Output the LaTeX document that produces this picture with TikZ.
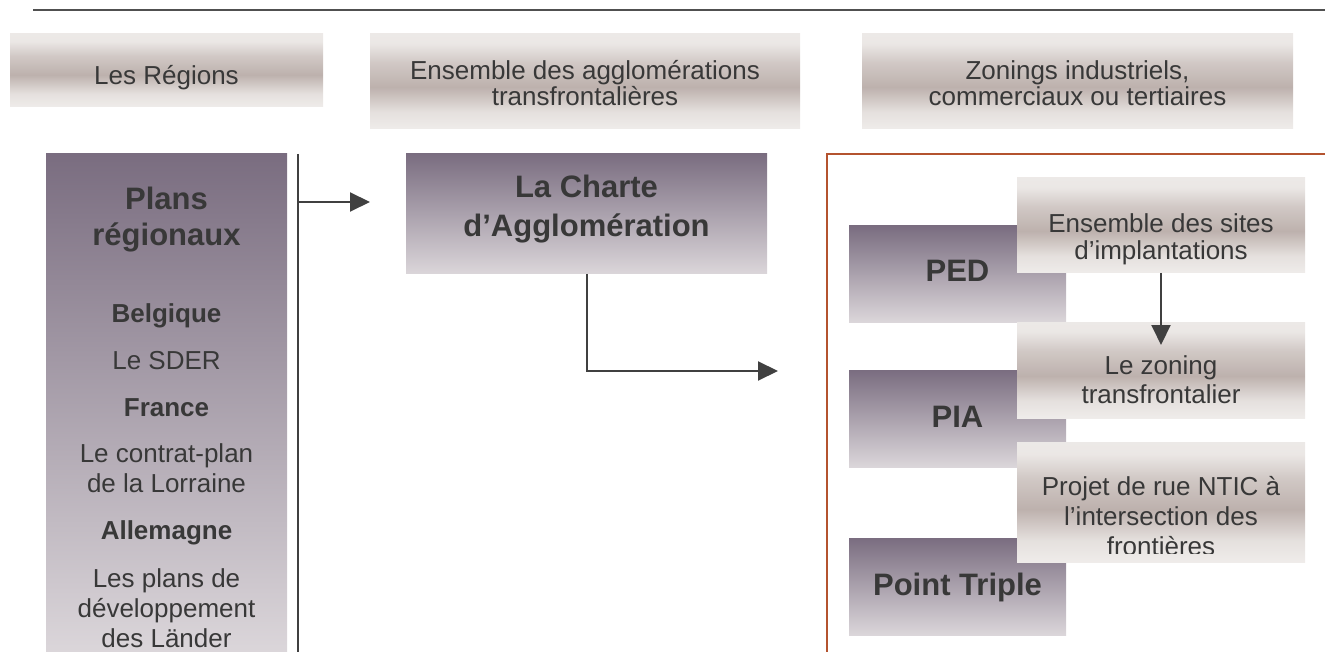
\documentclass[tikz,border=0pt]{standalone}
\usepackage{fontspec}
\setmainfont{Liberation Sans}
\usetikzlibrary{positioning,arrows.meta}

\definecolor{textgrey}{HTML}{383838}
\definecolor{linegrey}{HTML}{404040}
\definecolor{rulegrey}{HTML}{505050}
\definecolor{framebrown}{HTML}{B4532F}
\definecolor{plumdark}{HTML}{7A6D80}
\definecolor{plumlight}{HTML}{DBD6DA}
\definecolor{headlight}{HTML}{EFECEA}
\definecolor{headdark}{HTML}{BDB1AD}

% light at top and bottom, darker band a bit below the middle
\pgfdeclareverticalshading{headshade}{100bp}{%
  color(0bp)=(headlight); color(25bp)=(headlight);
  color(34bp)=(headlight!80!headdark); color(47bp)=(headdark);
  color(60bp)=(headdark!60!headlight); color(70bp)=(headlight!92!headdark);
  color(75bp)=(headlight!95!headdark); color(100bp)=(headlight!95!headdark)}

\begin{document}
\begin{tikzpicture}
        [ x=1pt, y=-1pt,
          every node/.style = {inner sep=0pt, outer sep=0pt, text=textgrey},
          head box/.style = {anchor=north west, shade, shading=headshade},
          plum box/.style = {anchor=north west, top color=plumdark, bottom color=plumlight},
          head text/.style = {font=\fontsize{26}{26}\selectfont, align=center, anchor=base},
          title text/.style = {font=\bfseries\fontsize{31}{37}\selectfont, align=center, anchor=base},
          sub text/.style = {font=\fontsize{26}{30}\selectfont, align=center, anchor=base},
          link/.style = {draw=linegrey, line width=2pt, -{Triangle[length=20pt,width=19pt]}}]
        \useasboundingbox (0,0) rectangle (1325,652);

        % top rule
        \coordinate (rulestart) at (33,10);
        \coordinate (ruleend) at (1325,10);
        \draw[rulegrey, line width=2pt] (rulestart) -- (ruleend);

        % column headers (multi-line texts sit on their last baseline)
        \node[head box, minimum width=313pt, minimum height=73pt] (regions) at (10,34) {};
        \node[head box, minimum width=430pt, minimum height=95pt] (agglos) at (370,34) {};
        \node[head box, minimum width=431pt, minimum height=95pt] (zonings) at (862,34) {};
        \node[head text] (regionstxt) at (166.5,85) {Les Régions};
        \node[head text] (agglostxt) at (585,106) {Ensemble des agglomérations\\transfrontalières};
        \node[head text] (zoningstxt) at (1077.5,106) {Zonings industriels,\\commerciaux ou tertiaires};

        % regional plans
        \node[plum box, minimum width=241pt, minimum height=498pt] (plans) at (46,154) {};
        \node[title text, font=\bfseries\fontsize{31}{36}\selectfont] (planstxt) at (166.5,246) {Plans\\régionaux};
        \node[sub text, font=\bfseries\fontsize{26}{30}\selectfont] (belgique) at (166.5,323) {Belgique};
        \node[sub text] (sder) at (166.5,369) {Le SDER};
        \node[sub text, font=\bfseries\fontsize{26}{30}\selectfont] (france) at (166.5,416) {France};
        \node[sub text] (lorraine) at (166.5,492) {Le contrat-plan\\de la Lorraine};
        \node[sub text, font=\bfseries\fontsize{26}{30}\selectfont] (allemagne) at (166.5,539) {Allemagne};
        \node[sub text] (laender) at (166.5,647) {Les plans de\\développement\\des Länder};

        \coordinate (bartop) at (298,154);
        \coordinate (barbottom) at (298,652);
        \coordinate (barout) at (298,202);
        \coordinate (chartein) at (370,202);
        \draw[linegrey, line width=2pt] (bartop) -- (barbottom);
        \draw[link] (barout) -- (chartein);

        % charter
        \node[plum box, minimum width=361pt, minimum height=120pt] (charte) at (406,154) {};
        \node[title text, font=\bfseries\fontsize{31}{39}\selectfont] (chartetxt) at (586.5,237) {La Charte\\d’Agglomération};
        \coordinate (zonein) at (778,371);
        \draw[link] (charte.south) |- (zonein);

        % industrial zones
        \coordinate (framebottom) at (827,652);
        \coordinate (frameright) at (1325,154);
        \draw[framebrown, line width=2.5pt] (framebottom) |- (frameright);

        \node[plum box, minimum width=217pt, minimum height=96pt] (ped) at (849,226) {};
        \node[plum box, minimum width=217pt, minimum height=97pt] (pia) at (849,370) {};
        \node[plum box, minimum width=217pt, minimum height=97pt] (triple) at (849,538) {};
        \node[title text] (pedtxt) at (957.5,282) {PED};
        \node[title text] (piatxt) at (957.5,427) {PIA};
        \node[title text] (tripletxt) at (957.5,595) {Point Triple};

        \node[head box, minimum width=288pt, minimum height=95pt] (sites) at (1017,178) {};
        \node[head box, minimum width=288pt, minimum height=96pt] (zoning) at (1017,322) {};
        \node[head box, minimum width=288pt, minimum height=120pt] (projet) at (1017,442) {};
        \node[sub text, font=\fontsize{26}{27}\selectfont] (sitestxt) at (1161,260) {Ensemble des sites\\d’implantations};
        \node[sub text, font=\fontsize{26}{29}\selectfont] (zoningtxt) at (1161,403) {Le zoning\\transfrontalier};
        \begin{scope}
          \clip (1017,442) rectangle (1305,553.5);
          \node[sub text] (projettxt) at (1161,555) {Projet de rue NTIC à\\l’intersection des\\frontières};
        \end{scope}
        \draw[link] (sites.south) -- ([yshift=-23pt]zoning.north);
    \end{tikzpicture}
\end{document}
